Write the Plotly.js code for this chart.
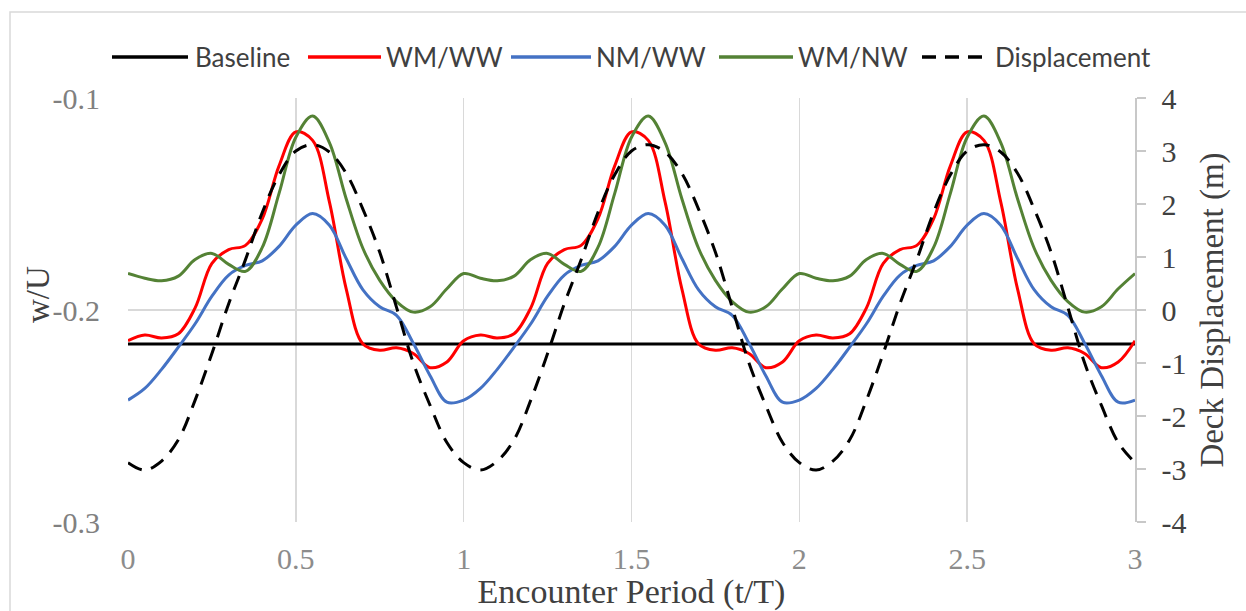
<!DOCTYPE html>
<html>
<head>
<meta charset="utf-8">
<script src="https://cdn.plot.ly/plotly-3.0.1.min.js"></script>
<style>
html,body{margin:0;padding:0;background:#fff;}
#chart{width:1246px;height:611px;}
</style>
</head>
<body>
<div id="chart"></div>
<script>
// ---- data ----
const t = [0,0.05,0.1,0.15,0.2,0.25,0.3,0.35,0.4,0.45,0.5,0.55,0.6,0.65,0.7,0.75,0.8,0.85,0.9,0.95,
           1,1.05,1.1,1.15,1.2,1.25,1.3,1.35,1.4,1.45,1.5,1.55,1.6,1.65,1.7,1.75,1.8,1.85,1.9,1.95,
           2,2.05,2.1,2.15,2.2,2.25,2.3,2.35,2.4,2.45,2.5,2.55,2.6,2.65,2.7,2.75,2.8,2.85,2.9,2.95,3];

const baselineT = [0, 3];
const baselineW = [-0.216, -0.216];

const wmww = [-0.2145,-0.2118,-0.2132,-0.2112,-0.1990,-0.1780,-0.1715,-0.1695,-0.1570,-0.1320,-0.1160,-0.1200,-0.1490,-0.1900,-0.2160,-0.2190,-0.2178,-0.2205,-0.2272,-0.2245,
              -0.2145,-0.2118,-0.2132,-0.2112,-0.1990,-0.1780,-0.1715,-0.1695,-0.1570,-0.1320,-0.1160,-0.1200,-0.1490,-0.1900,-0.2160,-0.2190,-0.2178,-0.2205,-0.2272,-0.2245,
              -0.2145,-0.2118,-0.2132,-0.2112,-0.1990,-0.1780,-0.1715,-0.1695,-0.1570,-0.1320,-0.1160,-0.1200,-0.1490,-0.1900,-0.2160,-0.2190,-0.2178,-0.2205,-0.2272,-0.2245,
              -0.2145];

const nmww = [-0.2425,-0.2370,-0.2280,-0.2175,-0.2065,-0.1935,-0.1835,-0.1790,-0.1768,-0.1700,-0.1600,-0.1545,-0.1600,-0.1757,-0.1905,-0.1985,-0.2025,-0.2157,-0.2310,-0.2435,
              -0.2425,-0.2370,-0.2280,-0.2175,-0.2065,-0.1935,-0.1835,-0.1790,-0.1768,-0.1700,-0.1600,-0.1545,-0.1600,-0.1757,-0.1905,-0.1985,-0.2025,-0.2157,-0.2310,-0.2435,
              -0.2425,-0.2370,-0.2280,-0.2175,-0.2065,-0.1935,-0.1835,-0.1790,-0.1768,-0.1700,-0.1600,-0.1545,-0.1600,-0.1757,-0.1905,-0.1985,-0.2025,-0.2157,-0.2310,-0.2435,
              -0.2425];

const wmnw = [-0.1828,-0.1850,-0.1862,-0.1840,-0.1762,-0.1733,-0.1785,-0.1818,-0.1705,-0.1450,-0.1185,-0.1085,-0.1210,-0.1475,-0.1710,-0.1860,-0.1960,-0.2010,-0.1985,-0.1900,
              -0.1828,-0.1850,-0.1862,-0.1840,-0.1762,-0.1733,-0.1785,-0.1818,-0.1705,-0.1450,-0.1185,-0.1085,-0.1210,-0.1475,-0.1710,-0.1860,-0.1960,-0.2010,-0.1985,-0.1900,
              -0.1828,-0.1850,-0.1862,-0.1840,-0.1762,-0.1733,-0.1785,-0.1818,-0.1705,-0.1450,-0.1185,-0.1085,-0.1210,-0.1475,-0.1710,-0.1860,-0.1960,-0.2010,-0.1985,-0.1900,
              -0.1828];

const displacement = [-2.88,-3.02,-2.85,-2.45,-1.70,-0.82,0.12,0.95,1.84,2.55,3.00,3.12,2.98,2.58,1.90,1.09,0.05,-1.00,-1.80,-2.50,
                      -2.88,-3.02,-2.85,-2.45,-1.70,-0.82,0.12,0.95,1.84,2.55,3.00,3.12,2.98,2.58,1.90,1.09,0.05,-1.00,-1.80,-2.50,
                      -2.88,-3.02,-2.85,-2.45,-1.70,-0.82,0.12,0.95,1.84,2.55,3.00,3.12,2.98,2.58,1.90,1.09,0.05,-1.00,-1.80,-2.50,
                      -2.88];

const seriesNames = ["Baseline", "WM/WW", "NM/WW", "WM/NW", "Displacement"];
const xTickVals = [0, 0.5, 1, 1.5, 2, 2.5, 3];
const xTickText = ["0", "0.5", "1", "1.5", "2", "2.5", "3"];
const yTickVals = [-0.3, -0.2, -0.1];
const yTickText = ["-0.3", "-0.2", "-0.1"];
const y2TickVals = [-4,-3,-2,-1,0,1,2,3,4];
const y2TickText = ["-4","-3","-2","-1","0","1","2","3","4"];
const yTitle = "w/U";

// ---- styling ----
const colors = ["#000000", "#ff0000", "#4472c4", "#548235", "#000000"];
const dashes = ["solid", "solid", "solid", "solid", "15px,10px"];
const W = 1246, H = 611;
const M = {l: 128, r: 111, t: 98, b: 89};
const pw = W - M.l - M.r, ph = H - M.t - M.b;
const px = v => (v - M.l) / pw;
const py = v => (H - M.b - v) / ph;

const line = (i) => ({color: colors[i], width: 3, dash: dashes[i], shape: 'spline', smoothing: 1});

const traces = [
  {x: baselineT, y: baselineW, name: seriesNames[0], mode: 'lines', line: {color: colors[0], width: 3}},
  {x: t, y: wmww, name: seriesNames[1], mode: 'lines', line: line(1)},
  {x: t, y: nmww, name: seriesNames[2], mode: 'lines', line: line(2)},
  {x: t, y: wmnw, name: seriesNames[3], mode: 'lines', line: line(3)},
  {x: t, y: displacement, name: seriesNames[4], mode: 'lines', yaxis: 'y2', line: line(4)}
];

// custom legend (long line samples like the reference)
const legendPos = [
  {l0: 112, l1: 188, tx: 193},
  {l0: 308, l1: 381, tx: 384},
  {l0: 511, l1: 591, tx: 594},
  {l0: 719, l1: 793, tx: 796},
  {l0: 922, l1: 991, tx: 993}
];
const legY = 57;
const shapes = [
  {type: 'rect', xref: 'paper', yref: 'paper', x0: px(10), x1: px(1270), y0: py(640), y1: py(12),
   line: {color: '#d9d9d9', width: 1.5}, layer: 'below'}
];
const serif = '"Liberation Serif", "Times New Roman", serif';
const annotations = [];
legendPos.forEach((p, i) => {
  shapes.push({type: 'line', xref: 'paper', yref: 'paper', x0: px(p.l0), x1: px(p.l1), y0: py(legY), y1: py(legY),
    line: {color: colors[i], width: 3.5, dash: i === 4 ? '14px,9px' : 'solid'}});
  annotations.push({xref: 'paper', yref: 'paper', x: px(p.tx), y: py(legY), xanchor: 'left', yanchor: 'middle',
    text: seriesNames[i], showarrow: false, font: {family: 'Lato, "Open Sans", sans-serif', size: 26, color: '#404040'}});
});
// left axis title (placed as in the reference)
annotations.push({xref: 'paper', yref: 'paper', x: px(38), y: py(295), xanchor: 'center', yanchor: 'middle',
  textangle: -90, text: yTitle, showarrow: false, font: {family: serif, size: 33, color: '#404040'}});

const layout = {
  width: W, height: H,
  margin: M,
  paper_bgcolor: '#ffffff', plot_bgcolor: '#ffffff',
  showlegend: false,
  xaxis: {
    range: [0, 3], tickvals: xTickVals, ticktext: xTickText,
    showgrid: true, gridcolor: '#d9d9d9', gridwidth: 1.5,
    showline: false, zeroline: false, ticks: '',
    ticklabelstandoff: 16,
    tickfont: {family: serif, size: 30, color: '#8c8c8c'},
    title: {text: 'Encounter Period (t/T)', font: {family: serif, size: 34, color: '#404040'}, standoff: 4},
    automargin: false
  },
  yaxis: {
    range: [-0.3, -0.1], tickvals: yTickVals, ticktext: yTickText,
    showgrid: true, gridcolor: '#d9d9d9', gridwidth: 1.5,
    showline: false, zeroline: false, ticks: '',
    ticklabelstandoff: 27,
    tickfont: {family: serif, size: 30, color: '#808080'},
    automargin: false
  },
  yaxis2: {
    overlaying: 'y', side: 'right',
    range: [-4, 4], tickvals: y2TickVals, ticktext: y2TickText,
    showgrid: false, zeroline: false,
    showline: true, linecolor: '#c8c8c8', linewidth: 1.5,
    ticks: 'outside', ticklen: 9, tickcolor: '#c8c8c8', tickwidth: 1.5,
    ticklabelstandoff: 10,
    tickfont: {family: serif, size: 30, color: '#404040'},
    title: {text: 'Deck Displacement (m)', font: {family: serif, size: 33, color: '#404040'}, standoff: 14},
    automargin: false
  },
  shapes: shapes,
  annotations: annotations
};

Plotly.newPlot('chart', traces, layout, {staticPlot: true, displayModeBar: false});
</script>
</body>
</html>
